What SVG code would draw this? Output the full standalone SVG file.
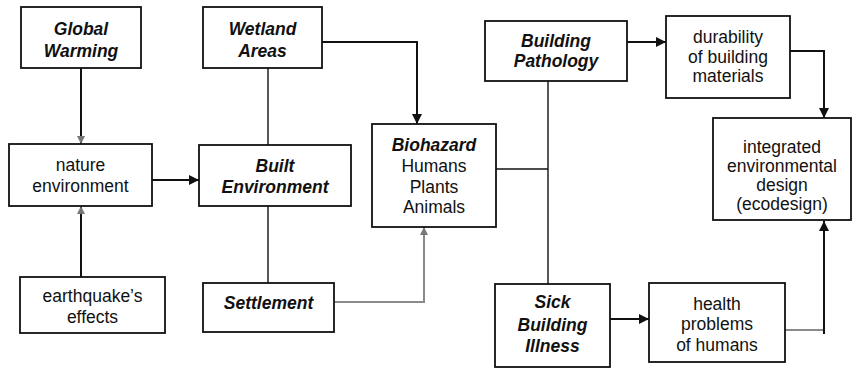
<svg xmlns="http://www.w3.org/2000/svg" width="857" height="368" viewBox="0 0 857 368">
  <style>
    .box { fill: #ffffff; stroke: #111111; stroke-width: 1.8; }
    .t { font-family: "Liberation Sans", Arial, sans-serif; font-size: 17.5px; fill: #111111; text-anchor: middle; }
    .b { font-weight: bold; font-style: italic; }
    .line { fill: none; stroke: #111111; stroke-width: 1.4; }
    .arrow { fill: none; stroke: #111111; stroke-width: 2; }
    .grey { fill: none; stroke: #8a8a8a; stroke-width: 2; }
  </style>
  <defs>
    <marker id="head" viewBox="0 0 10 10" refX="10" refY="5" markerWidth="12" markerHeight="10" markerUnits="userSpaceOnUse" orient="auto">
      <path d="M0,0 L10,5 L0,10 z" fill="#111111"/>
    </marker>
    <marker id="faint" viewBox="0 0 10 10" refX="10" refY="5" markerWidth="8" markerHeight="8" markerUnits="userSpaceOnUse" orient="auto">
      <path d="M0,0 L10,5 L0,10 z" fill="#777777"/>
    </marker>
  </defs>

  <rect width="857" height="368" fill="#ffffff"/>

  <!-- connectors -->
  <g id="connectors">
    <path class="arrow" d="M81,68 V144" marker-end="url(#faint)"/>
    <path class="arrow" d="M81,277 V206" marker-end="url(#faint)"/>
    <path class="arrow" d="M152,180 H199" marker-end="url(#head)"/>
    <path class="line" d="M268,68 V145"/>
    <path class="line" d="M268,206 V283"/>
    <path class="arrow" d="M322,42 H417 V124" marker-end="url(#head)"/>
    <path class="grey" d="M334,302 H424 V227" marker-end="url(#faint)"/>
    <path class="line" d="M496,169 H548"/>
    <path class="line" d="M548,81 V284"/>
    <path class="arrow" d="M627,42 H666" marker-end="url(#head)"/>
    <path class="arrow" d="M790,51 H824 V118" marker-end="url(#head)"/>
    <path class="arrow" d="M610,319 H649" marker-end="url(#head)"/>
    <path class="grey" d="M785,330 H823"/>
    <path class="arrow" d="M824,334 V221" marker-end="url(#head)"/>
  </g>

  <g id="global-warming">
    <rect class="box" x="21" y="7" width="120" height="61"/>
    <text class="t b" x="81" y="35">Global</text>
    <text class="t b" x="81" y="57">Warming</text>
  </g>

  <g id="wetland-areas">
    <rect class="box" x="203" y="7" width="119" height="61"/>
    <text class="t b" x="262.5" y="35">Wetland</text>
    <text class="t b" x="262.5" y="57">Areas</text>
  </g>

  <g id="nature-environment">
    <rect class="box" x="9" y="144" width="143" height="62"/>
    <text class="t" x="80.5" y="171">nature</text>
    <text class="t" x="80.5" y="192">environment</text>
  </g>

  <g id="built-environment">
    <rect class="box" x="199" y="145" width="152" height="61"/>
    <text class="t b" x="275" y="172">Built</text>
    <text class="t b" x="275" y="193">Environment</text>
  </g>

  <g id="earthquake-effects">
    <rect class="box" x="20" y="277" width="145" height="56"/>
    <text class="t" x="92.5" y="302">earthquake’s</text>
    <text class="t" x="92.5" y="323">effects</text>
  </g>

  <g id="settlement">
    <rect class="box" x="203" y="283" width="131" height="49"/>
    <text class="t b" x="268.5" y="309">Settlement</text>
  </g>

  <g id="biohazard">
    <rect class="box" x="372" y="124" width="124" height="103"/>
    <text class="t b" x="434" y="151">Biohazard</text>
    <text class="t" x="434" y="172">Humans</text>
    <text class="t" x="434" y="193">Plants</text>
    <text class="t" x="434" y="213">Animals</text>
  </g>

  <g id="building-pathology">
    <rect class="box" x="485" y="21" width="142" height="60"/>
    <text class="t b" x="556" y="47">Building</text>
    <text class="t b" x="556" y="67">Pathology</text>
  </g>

  <g id="durability">
    <rect class="box" x="666" y="16" width="124" height="82"/>
    <text class="t" x="728" y="43">durability</text>
    <text class="t" x="728" y="63">of building</text>
    <text class="t" x="728" y="82">materials</text>
  </g>

  <g id="integrated-design">
    <rect class="box" x="713" y="118" width="138" height="102"/>
    <text class="t" x="782" y="153">integrated</text>
    <text class="t" x="782" y="172">environmental</text>
    <text class="t" x="782" y="191">design</text>
    <text class="t" x="782" y="210">(ecodesign)</text>
  </g>

  <g id="sick-building-illness">
    <rect class="box" x="495" y="284" width="115" height="83"/>
    <text class="t b" x="552.5" y="308">Sick</text>
    <text class="t b" x="552.5" y="331">Building</text>
    <text class="t b" x="552.5" y="352">Illness</text>
  </g>

  <g id="health-problems">
    <rect class="box" x="649" y="283" width="136" height="79"/>
    <text class="t" x="717" y="310">health</text>
    <text class="t" x="717" y="330">problems</text>
    <text class="t" x="717" y="351">of humans</text>
  </g>
</svg>
